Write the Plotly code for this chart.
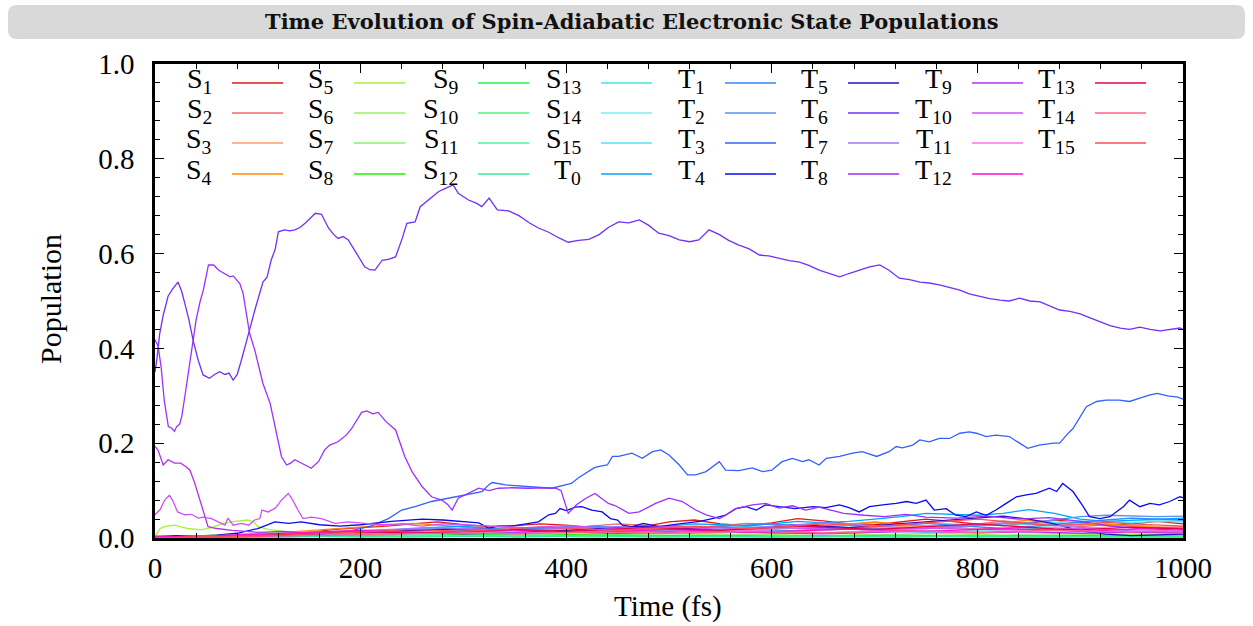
import plotly.graph_objects as go

# ---------------------------------------------------------------- data
# common time grid (fs) for the weakly populated states
T_GRID = list(range(0, 1001, 25))

S1 = [0.000,0.001,0.002,0.004,0.006,0.008,0.012,0.018,0.022,0.025,0.030,0.034,0.028,0.024,0.026,0.030,0.027,0.022,0.020,0.024,0.034,0.038,0.030,0.026,0.032,0.041,0.036,0.030,0.028,0.034,0.040,0.035,0.029,0.026,0.031,0.038,0.033,0.027,0.030,0.035,0.030]
S2 = [0.000,0.000,0.001,0.002,0.003,0.004,0.006,0.008,0.010,0.012,0.015,0.018,0.020,0.024,0.022,0.019,0.021,0.026,0.030,0.027,0.024,0.022,0.026,0.031,0.029,0.025,0.022,0.027,0.033,0.030,0.026,0.024,0.029,0.036,0.032,0.027,0.024,0.028,0.025,0.022,0.024]
S3 = [0.000,0.001,0.002,0.002,0.003,0.005,0.007,0.010,0.012,0.014,0.013,0.016,0.018,0.015,0.013,0.017,0.020,0.018,0.015,0.014,0.018,0.022,0.020,0.017,0.019,0.023,0.021,0.018,0.020,0.024,0.026,0.022,0.019,0.021,0.025,0.022,0.020,0.023,0.027,0.024,0.021]
S4 = [0.000,0.002,0.004,0.006,0.009,0.012,0.016,0.020,0.024,0.028,0.031,0.027,0.023,0.020,0.018,0.016,0.014,0.017,0.020,0.018,0.016,0.019,0.023,0.020,0.018,0.021,0.025,0.030,0.034,0.029,0.024,0.021,0.026,0.032,0.038,0.033,0.027,0.030,0.026,0.022,0.020]
S5_t = [0,5,9,19,32,45,55,65,74,82,90,96,100,110,125,150,175,200,250,300,350,400,450,500,550,600,650,700,750,800,850,900,950,1000]
S5 = [0.003,0.020,0.024,0.027,0.020,0.017,0.022,0.030,0.034,0.036,0.038,0.034,0.024,0.018,0.014,0.012,0.010,0.009,0.008,0.010,0.007,0.006,0.008,0.005,0.006,0.007,0.005,0.004,0.006,0.005,0.004,0.005,0.004,0.004]
S6 = [0.000,0.003,0.006,0.008,0.010,0.012,0.014,0.012,0.010,0.011,0.013,0.012,0.010,0.009,0.011,0.013,0.012,0.010,0.008,0.009,0.011,0.010,0.008,0.007,0.009,0.011,0.010,0.008,0.007,0.008,0.010,0.009,0.007,0.006,0.008,0.009,0.008,0.006,0.007,0.008,0.007]
S7 = [0.000,0.001,0.002,0.003,0.004,0.005,0.006,0.007,0.006,0.005,0.006,0.008,0.009,0.008,0.006,0.005,0.006,0.007,0.008,0.007,0.006,0.005,0.006,0.007,0.006,0.005,0.004,0.005,0.006,0.005,0.004,0.005,0.006,0.005,0.004,0.004,0.005,0.004,0.003,0.004,0.004]
S8 = [0.000,0.001,0.001,0.002,0.003,0.004,0.005,0.006,0.008,0.010,0.009,0.008,0.007,0.006,0.005,0.006,0.007,0.006,0.005,0.004,0.005,0.006,0.005,0.004,0.003,0.004,0.005,0.004,0.003,0.003,0.004,0.005,0.004,0.003,0.003,0.004,0.005,0.006,0.005,0.004,0.004]
S9 = [0.000,0.000,0.001,0.001,0.002,0.003,0.004,0.005,0.006,0.005,0.004,0.005,0.006,0.007,0.006,0.005,0.004,0.005,0.006,0.005,0.004,0.003,0.004,0.005,0.004,0.003,0.003,0.004,0.005,0.006,0.005,0.004,0.003,0.004,0.005,0.004,0.003,0.003,0.004,0.003,0.003]
S10 = [0.000,0.001,0.002,0.003,0.003,0.004,0.005,0.004,0.003,0.004,0.005,0.006,0.005,0.004,0.003,0.004,0.005,0.004,0.003,0.002,0.003,0.004,0.003,0.002,0.002,0.003,0.004,0.003,0.002,0.002,0.003,0.004,0.003,0.002,0.002,0.003,0.003,0.002,0.002,0.003,0.002]
S11 = [0.000,0.000,0.001,0.002,0.002,0.003,0.004,0.003,0.002,0.003,0.004,0.003,0.003,0.004,0.005,0.004,0.003,0.002,0.003,0.004,0.003,0.002,0.002,0.003,0.004,0.003,0.002,0.002,0.003,0.004,0.003,0.002,0.002,0.003,0.002,0.002,0.003,0.004,0.003,0.002,0.002]
S12 = [0.000,0.001,0.001,0.002,0.003,0.002,0.003,0.004,0.003,0.002,0.002,0.003,0.004,0.003,0.002,0.003,0.004,0.005,0.004,0.003,0.002,0.003,0.004,0.003,0.002,0.002,0.003,0.004,0.003,0.002,0.003,0.004,0.003,0.002,0.002,0.003,0.002,0.002,0.003,0.002,0.002]
S13 = [0.000,0.002,0.004,0.006,0.008,0.010,0.012,0.014,0.013,0.011,0.010,0.012,0.015,0.017,0.015,0.012,0.010,0.011,0.013,0.016,0.018,0.016,0.013,0.011,0.012,0.014,0.016,0.019,0.017,0.014,0.012,0.013,0.015,0.018,0.020,0.017,0.014,0.012,0.013,0.015,0.014]
S14 = [0.000,0.001,0.002,0.003,0.004,0.005,0.006,0.008,0.010,0.009,0.008,0.009,0.011,0.012,0.010,0.009,0.010,0.012,0.014,0.013,0.011,0.010,0.012,0.014,0.016,0.014,0.012,0.013,0.015,0.017,0.016,0.014,0.015,0.018,0.022,0.026,0.030,0.034,0.036,0.038,0.036]
S15 = [0.000,0.001,0.002,0.004,0.006,0.008,0.010,0.012,0.014,0.016,0.018,0.020,0.018,0.016,0.015,0.017,0.020,0.022,0.020,0.018,0.016,0.018,0.021,0.024,0.022,0.020,0.023,0.026,0.024,0.028,0.032,0.030,0.028,0.026,0.029,0.033,0.036,0.034,0.032,0.035,0.034]
T0 = [0.001,0.002,0.003,0.004,0.006,0.008,0.010,0.012,0.014,0.016,0.020,0.022,0.025,0.020,0.018,0.022,0.020,0.025,0.022,0.020,0.025,0.030,0.028,0.025,0.030,0.035,0.032,0.035,0.040,0.045,0.052,0.050,0.048,0.052,0.060,0.052,0.040,0.035,0.038,0.040,0.042]
T1 = [0.000,0.001,0.002,0.003,0.004,0.005,0.006,0.008,0.010,0.012,0.015,0.018,0.016,0.014,0.017,0.020,0.024,0.022,0.019,0.016,0.018,0.021,0.024,0.027,0.030,0.026,0.022,0.020,0.024,0.028,0.031,0.027,0.023,0.020,0.024,0.029,0.033,0.038,0.042,0.040,0.038]
T2 = [0.000,0.000,0.001,0.002,0.003,0.004,0.005,0.006,0.007,0.008,0.010,0.012,0.014,0.013,0.011,0.012,0.014,0.016,0.015,0.013,0.014,0.016,0.018,0.017,0.015,0.016,0.019,0.022,0.020,0.018,0.020,0.023,0.026,0.029,0.033,0.038,0.045,0.048,0.047,0.045,0.046]
T3_t = [0,50,100,150,190,210,227,240,253,269,285.6,302,318,324.6,328,341,357,373,386,399,405,412,419,427,432,440,445,451,464,474,484,492,500,510,518,526,536,549,555,568,581,591,600,610,620,630,636,646,653,666,678.6,688,702,714,721,727,737,744,753,763,773,783,792,799,808.6,818,831,841,849,860,873.6,880,886.6,893,899.6,906,916,925,938,948,958,968,975,985,995,1000]
T3 = [0.002,0.003,0.005,0.008,0.015,0.025,0.041,0.059,0.066,0.077,0.084,0.091,0.098,0.112,0.117,0.112,0.110,0.107,0.105,0.112,0.115,0.127,0.137,0.148,0.151,0.154,0.172,0.172,0.179,0.168,0.182,0.186,0.175,0.154,0.133,0.133,0.140,0.161,0.143,0.142,0.148,0.140,0.143,0.161,0.168,0.161,0.165,0.154,0.168,0.172,0.179,0.182,0.172,0.182,0.193,0.190,0.196,0.207,0.203,0.210,0.210,0.221,0.224,0.221,0.214,0.217,0.214,0.200,0.189,0.196,0.200,0.200,0.217,0.231,0.253,0.277,0.288,0.291,0.291,0.288,0.295,0.302,0.305,0.300,0.297,0.293]
T4_t = [0,20,40,60,80,100,116.6,130,142,160,180,200,230,260,280,300,315,324.6,334,347,363.5,373,383,389.5,394,400,409,415,425,435,443,450,454.5,464,475,490,510,530,542,555,565,575,585,594,607,623,640,652.6,665.7,675,685,695,708,721,731,740.5,750,758,769.6,779,789,799,808.6,818,828,838,847.6,857,870,877,883,893,903,909,919,929,935,942,948,958,968,977,987,997,1000]
T4 = [0.003,0.005,0.004,0.006,0.010,0.020,0.034,0.031,0.034,0.028,0.025,0.028,0.035,0.040,0.038,0.035,0.032,0.021,0.025,0.025,0.031,0.034,0.049,0.052,0.062,0.058,0.065,0.066,0.059,0.055,0.041,0.038,0.027,0.024,0.031,0.024,0.030,0.035,0.041,0.048,0.062,0.066,0.059,0.070,0.066,0.062,0.066,0.064,0.070,0.064,0.055,0.066,0.070,0.073,0.077,0.073,0.080,0.059,0.062,0.048,0.045,0.055,0.048,0.059,0.073,0.087,0.091,0.094,0.105,0.098,0.115,0.098,0.066,0.045,0.041,0.045,0.055,0.066,0.080,0.066,0.073,0.070,0.077,0.087,0.085]
T5 = [0.000,0.001,0.002,0.003,0.004,0.006,0.008,0.010,0.012,0.014,0.016,0.018,0.020,0.018,0.016,0.014,0.016,0.019,0.022,0.025,0.022,0.019,0.017,0.020,0.024,0.028,0.025,0.022,0.026,0.030,0.034,0.038,0.042,0.046,0.040,0.030,0.015,0.008,0.005,0.006,0.008]
T6_t = [0,2,4.5,8,12.7,17,22.4,26,29,33,37,42,46.8,50,53,58,63,68,72,76,80,84,88,92,97,101,105,109,113,117,120,126,131,136,141,146,151,156,162,169,174,178,183,188,195,200,204,209,214,221,227,234,240,245,253,258,264,269,276,281,286,290,295,300,305,313,318,325,333,344,354,364,373,383,393,402,412,422,432,441,451,461,471,480,490,500,510,520,529,539,549,558,568,578,588,597,607,617,627,636,646,656,666,675,685,695,705,714,724,734,744,753,763,773,783,792,802,812,822,831,841,851,861,870,880,890,900,909,919,929,939,948,958,968,978,988,997,1000]
T6 = [0.350,0.380,0.430,0.470,0.510,0.525,0.540,0.520,0.495,0.460,0.418,0.375,0.344,0.340,0.337,0.345,0.351,0.345,0.348,0.333,0.345,0.375,0.410,0.439,0.480,0.510,0.540,0.550,0.586,0.610,0.646,0.650,0.648,0.650,0.655,0.664,0.675,0.685,0.683,0.653,0.640,0.632,0.636,0.629,0.604,0.585,0.572,0.566,0.565,0.586,0.588,0.593,0.629,0.664,0.667,0.699,0.710,0.720,0.731,0.736,0.741,0.745,0.727,0.720,0.713,0.706,0.699,0.717,0.692,0.690,0.680,0.665,0.654,0.645,0.633,0.624,0.628,0.630,0.640,0.655,0.667,0.665,0.671,0.660,0.643,0.638,0.629,0.625,0.629,0.650,0.640,0.628,0.618,0.610,0.597,0.595,0.590,0.585,0.582,0.575,0.565,0.558,0.551,0.558,0.565,0.572,0.576,0.565,0.548,0.545,0.540,0.538,0.534,0.528,0.523,0.515,0.510,0.505,0.502,0.500,0.506,0.500,0.498,0.490,0.481,0.478,0.473,0.465,0.456,0.448,0.443,0.440,0.445,0.440,0.437,0.440,0.443,0.440]
T7 = [0.000,0.002,0.004,0.006,0.008,0.010,0.012,0.014,0.016,0.018,0.020,0.022,0.020,0.018,0.016,0.018,0.020,0.022,0.024,0.020,0.017,0.015,0.018,0.021,0.024,0.028,0.032,0.030,0.026,0.022,0.020,0.024,0.028,0.032,0.030,0.026,0.022,0.018,0.015,0.012,0.010]
T8_t = [0,3,6,9,13,16,19,21,24,26,29,34,40,44,47,52,57,62,68,73,76,79,82.5,85.7,89,92,97,101,105,112,117,120,123,128,132,136,141,146,152,159,165,170,178,186,191,195,201,206,212,217,225,234,243,250,255,260,269,279,285,289,295,305,315,325,334,347,363,380,390,395,402,410,420,428,441,448,461,471,487,500,513,526,536,549,555,565,581,594,607,620,633,646,656,670,690,710,730,750,780,810,840,870,900,930,960,1000]
T8 = [0.418,0.405,0.360,0.290,0.235,0.232,0.225,0.235,0.240,0.256,0.298,0.375,0.460,0.500,0.523,0.576,0.576,0.565,0.558,0.551,0.553,0.545,0.537,0.516,0.467,0.432,0.397,0.360,0.326,0.284,0.235,0.200,0.172,0.154,0.158,0.165,0.160,0.154,0.147,0.161,0.186,0.196,0.203,0.217,0.230,0.245,0.265,0.268,0.262,0.265,0.245,0.228,0.172,0.140,0.125,0.108,0.087,0.080,0.070,0.059,0.084,0.095,0.105,0.100,0.105,0.106,0.105,0.106,0.105,0.100,0.052,0.070,0.085,0.094,0.073,0.068,0.052,0.055,0.073,0.084,0.077,0.059,0.049,0.041,0.048,0.062,0.070,0.073,0.063,0.068,0.059,0.065,0.059,0.052,0.048,0.045,0.050,0.044,0.042,0.046,0.040,0.043,0.035,0.025,0.020,0.016]
T9_t = [0,3,8,12.7,19,25,30.5,34,38.6,43.5,48,51.6,60,75,100,125,150,175,200,250,300,350,400,450,500,550,600,650,700,750,800,850,900,950,1000]
T9 = [0.193,0.185,0.154,0.165,0.158,0.158,0.150,0.143,0.116,0.080,0.045,0.024,0.020,0.016,0.012,0.014,0.011,0.013,0.010,0.012,0.009,0.011,0.013,0.010,0.012,0.014,0.011,0.009,0.012,0.014,0.011,0.013,0.010,0.012,0.011]
T10_t = [0,5,9.4,14,17,22,29,35.5,42,47,55,61,68,71,76,84,91,97,102,104,110,117,123,129.6,134,139,144,152,162,175,188,204,220,240,260,280,300,330,360,400,450,500,550,600,650,700,750,800,850,900,950,1000]
T10 = [0.049,0.060,0.080,0.090,0.080,0.055,0.049,0.050,0.042,0.044,0.041,0.034,0.027,0.042,0.027,0.031,0.027,0.038,0.041,0.059,0.055,0.063,0.080,0.094,0.080,0.059,0.041,0.044,0.041,0.031,0.034,0.031,0.028,0.030,0.025,0.030,0.028,0.025,0.022,0.026,0.020,0.024,0.018,0.022,0.020,0.017,0.021,0.019,0.016,0.020,0.018,0.015]
T11 = [0.002,0.003,0.004,0.005,0.006,0.008,0.010,0.009,0.008,0.010,0.012,0.014,0.012,0.010,0.009,0.011,0.013,0.015,0.013,0.011,0.010,0.012,0.014,0.016,0.014,0.012,0.011,0.013,0.015,0.017,0.015,0.013,0.012,0.014,0.016,0.018,0.016,0.014,0.013,0.015,0.014]
T12 = [0.004,0.003,0.004,0.006,0.008,0.010,0.012,0.014,0.016,0.014,0.012,0.011,0.013,0.015,0.017,0.015,0.013,0.012,0.014,0.016,0.018,0.016,0.014,0.012,0.013,0.015,0.017,0.019,0.017,0.015,0.014,0.016,0.018,0.020,0.018,0.016,0.014,0.016,0.019,0.022,0.020]
T13 = [0.000,0.001,0.002,0.003,0.005,0.007,0.009,0.011,0.013,0.012,0.010,0.012,0.014,0.016,0.018,0.016,0.014,0.016,0.019,0.022,0.020,0.018,0.016,0.019,0.022,0.025,0.023,0.020,0.018,0.021,0.024,0.027,0.030,0.026,0.022,0.019,0.017,0.020,0.023,0.021,0.019]
T14 = [0.000,0.001,0.001,0.002,0.003,0.004,0.005,0.006,0.007,0.008,0.009,0.010,0.011,0.010,0.009,0.010,0.012,0.013,0.012,0.011,0.010,0.011,0.013,0.014,0.013,0.012,0.011,0.012,0.014,0.015,0.014,0.013,0.012,0.013,0.015,0.016,0.015,0.014,0.013,0.014,0.013]
T15 = [0.000,0.001,0.002,0.003,0.004,0.006,0.008,0.010,0.012,0.015,0.018,0.016,0.014,0.017,0.020,0.023,0.021,0.018,0.016,0.019,0.022,0.025,0.023,0.020,0.022,0.026,0.030,0.027,0.024,0.028,0.032,0.036,0.040,0.035,0.030,0.026,0.029,0.033,0.030,0.027,0.025]

# state labels, colours and (time, population) pairs in plotting order
STATES = [
    ("S", "1", "#e01818", T_GRID, S1), ("S", "2", "#f06a6a", T_GRID, S2),
    ("S", "3", "#ff9a6a", T_GRID, S3), ("S", "4", "#ff8a00", T_GRID, S4),
    ("S", "5", "#a8f038", S5_t, S5), ("S", "6", "#98f060", T_GRID, S6),
    ("S", "7", "#88f070", T_GRID, S7), ("S", "8", "#20f000", T_GRID, S8),
    ("S", "9", "#28ec50", T_GRID, S9), ("S", "10", "#58f080", T_GRID, S10),
    ("S", "11", "#50f098", T_GRID, S11), ("S", "12", "#30eca0", T_GRID, S12),
    ("S", "13", "#40e4dc", T_GRID, S13), ("S", "14", "#78eef0", T_GRID, S14),
    ("S", "15", "#58e0f4", T_GRID, S15), ("T", "0", "#00a4ff", T_GRID, T0),
    ("T", "1", "#3088ff", T_GRID, T1), ("T", "2", "#5a90f4", T_GRID, T2),
    ("T", "3", "#3460ff", T3_t, T3), ("T", "4", "#0a0af0", T4_t, T4),
    ("T", "5", "#3008c0", T_GRID, T5), ("T", "6", "#7030f8", T6_t, T6),
    ("T", "7", "#a078ff", T_GRID, T7), ("T", "8", "#9a30ff", T8_t, T8),
    ("T", "9", "#b430f0", T9_t, T9), ("T", "10", "#d050f8", T10_t, T10),
    ("T", "11", "#ff70ec", T_GRID, T11), ("T", "12", "#ff10c4", T_GRID, T12),
    ("T", "13", "#e80050", T_GRID, T13), ("T", "14", "#ff6484", T_GRID, T14),
    ("T", "15", "#ff4c5c", T_GRID, T15),
]

# ---------------------------------------------------------------- layout geometry (pixels)
W, H = 1253, 626
PL, PR, PT, PB = 155, 1183, 64, 538
SERIF = "Liberation Serif"


def fx(px):
    return (px - PL) / (PR - PL)


def fy(py):
    return (PB - py) / (PB - PT)


fig = go.Figure()
for letter, idx, color, tt, vv in STATES:
    n = min(len(tt), len(vv))
    fig.add_trace(go.Scatter(
        x=tt[:n], y=vv[:n], mode="lines", name=f"{letter}{idx}",
        line=dict(color=color, width=1.3), showlegend=False,
        hoverinfo="x+y+name",
    ))

shapes = []
annotations = []

# rounded grey title bar
x0, x1, y0, y1, r = 8, 1245, 5, 39, 9
pts = [
    ("M", (x0 + r, y0)), ("L", (x1 - r, y0)), ("Q", (x1, y0), (x1, y0 + r)),
    ("L", (x1, y1 - r)), ("Q", (x1, y1), (x1 - r, y1)), ("L", (x0 + r, y1)),
    ("Q", (x0, y1), (x0, y1 - r)), ("L", (x0, y0 + r)), ("Q", (x0, y0), (x0 + r, y0)),
]
path = ""
for cmd, *cs in pts:
    path += cmd + " " + " ".join(f"{fx(a):.5f},{fy(b):.5f}" for a, b in cs) + " "
path += "Z"
shapes.append(dict(type="path", xref="paper", yref="paper", path=path,
                   fillcolor="#d9d9d9", line=dict(width=0), layer="below"))
annotations.append(dict(
    xref="paper", yref="paper", x=fx(632), y=fy(22), showarrow=False,
    text="<b>Time Evolution of Spin-Adiabatic Electronic State Populations</b>",
    font=dict(family="DejaVu Serif", size=21, color="#111111"),
    xanchor="center", yanchor="middle"))

# key: 8 columns x 4 rows, label right-aligned before a short line sample
COL_X = [232, 354, 478, 601, 725, 848, 972, 1095]
ROW_Y = [83, 113, 143, 174]
SAMPLE_LEN = 51
for k, (letter, idx, color, _, _) in enumerate(STATES):
    c, rr = divmod(k, 4)
    sx, sy = COL_X[c], ROW_Y[rr]
    shapes.append(dict(type="line", xref="paper", yref="paper",
                       x0=fx(sx), x1=fx(sx + SAMPLE_LEN), y0=fy(sy), y1=fy(sy),
                       line=dict(color=color, width=1.3)))
    annotations.append(dict(
        xref="paper", yref="paper", x=fx(sx - 18), y=fy(sy - 3),
        text=f"{letter}<sub>{idx}</sub>", showarrow=False,
        font=dict(family=SERIF, size=28, color="black"),
        xanchor="right", yanchor="middle"))

# axis titles
annotations.append(dict(xref="paper", yref="paper", x=fx(668), y=fy(606),
                        text="Time (fs)", showarrow=False,
                        font=dict(family=SERIF, size=29, color="black"),
                        xanchor="center", yanchor="middle"))
annotations.append(dict(xref="paper", yref="paper", x=fx(50), y=fy(299),
                        text="Population", showarrow=False, textangle=-90,
                        font=dict(family=SERIF, size=30, color="black"),
                        xanchor="center", yanchor="middle"))

axis_common = dict(
    showline=True, linecolor="black", linewidth=2.5, mirror="allticks",
    ticks="inside", ticklen=9, tickwidth=1.3, tickcolor="black",
    showgrid=False, zeroline=False,
    tickfont=dict(family=SERIF, size=29, color="black"),
)
fig.update_xaxes(range=[0, 1000], tickvals=[0, 200, 400, 600, 800, 1000],
                 minor=dict(dtick=40, tick0=0, ticks="inside", ticklen=5,
                            tickwidth=1.1, tickcolor="black", showgrid=False),
                 ticklabelstandoff=2, **axis_common)
fig.update_yaxes(range=[0, 1], tickvals=[0, 0.2, 0.4, 0.6, 0.8, 1.0],
                 ticktext=["0.0", "0.2", "0.4", "0.6", "0.8", "1.0"],
                 minor=dict(dtick=0.04, tick0=0, ticks="inside", ticklen=5,
                            tickwidth=1.1, tickcolor="black", showgrid=False),
                 ticklabelstandoff=12, **axis_common)

fig.update_layout(
    width=W, height=H,
    margin=dict(l=PL, r=W - PR, t=PT, b=H - PB, pad=0),
    paper_bgcolor="white", plot_bgcolor="white",
    shapes=shapes, annotations=annotations, showlegend=False,
)

fig.write_html("out.html")
